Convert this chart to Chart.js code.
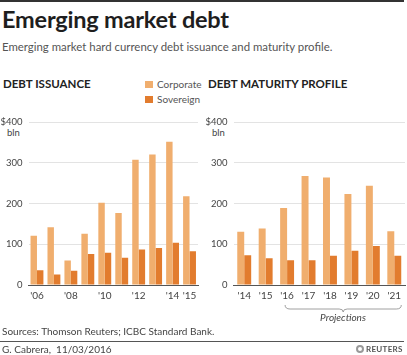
<!DOCTYPE html>
<html>
<head>
<meta charset="utf-8">
<script src="https://cdn.jsdelivr.net/npm/chart.js@4.4.1/dist/chart.umd.min.js"></script>
<style>
  html, body { margin: 0; padding: 0; background: #fff; }
  body { width: 407px; height: 355px; position: relative; overflow: hidden; font-family: Lato, "Noto Sans", sans-serif; color: #222; }
  .abs { position: absolute; white-space: nowrap; }
  #topline { left: 0; top: 0; width: 404px; height: 2px; background: #333; }
  #title { left: 2px; top: 5px; font-size: 23.5px; font-weight: 700; color: #1e1e1e; letter-spacing: -0.2px; }
  #subtitle { left: 2px; top: 40px; font-size: 11.4px; color: #555; }
  .hdr { font-size: 11.5px; font-weight: 700; color: #222; top: 77px; }
  .leg { left: 145px; font-size: 10px; color: #555; }
  .leg span { display: inline-block; width: 8px; height: 7px; margin-right: 4px; vertical-align: 0px; }
  .bln { font-size: 9.5px; color: #444; }
  #wrapL { left: 0; top: 110px; width: 202px; height: 210px; }
  #wrapR { left: 205px; top: 110px; width: 202px; height: 210px; }
  #proj { left: 343px; top: 311px; transform: translateX(-50%); font-size: 10px; font-style: italic; color: #444; }
  #sources { left: 2px; top: 325px; font-size: 10px; color: #444; }
  #sep { left: 0; top: 341px; width: 404px; height: 1px; background: #555; }
  #byline { left: 2px; top: 343px; font-size: 10px; color: #444; }
  #reuters { left: 356px; top: 344px; font-size: 8px; font-weight: 700; color: #555; letter-spacing: 0.3px; }
  #reuters i { display: inline-block; width: 8px; height: 8px; border-radius: 50%; border: 2px solid #999; box-sizing: border-box; vertical-align: -1px; margin-right: 2px; }
  canvas { display: block; }
</style>
</head>
<body>
<div class="abs" id="topline"></div>
<div class="abs" id="title">Emerging market debt</div>
<div class="abs" id="subtitle">Emerging market hard currency debt issuance and maturity profile.</div>
<div class="abs hdr" style="left:3px">DEBT ISSUANCE</div>
<div class="abs hdr" style="left:208px">DEBT MATURITY PROFILE</div>
<div class="abs leg" style="top:78px"><span style="background:#F0AE6E"></span>Corporate</div>
<div class="abs leg" style="top:93px"><span style="background:#E27C2E"></span>Sovereign</div>
<div class="abs bln" style="left:7px;top:127px">bln</div>
<div class="abs bln" style="left:212px;top:127px">bln</div>
<div class="abs" id="wrapL"><canvas id="cL" width="202" height="210"></canvas></div>
<div class="abs" id="wrapR"><canvas id="cR" width="202" height="210"></canvas></div>
<div class="abs" id="proj">Projections</div>
<div class="abs" id="sources">Sources: Thomson Reuters; ICBC Standard Bank.</div>
<div class="abs" id="sep"></div>
<div class="abs" id="byline">G. Cabrera,&nbsp; 11/03/2016</div>
<div class="abs" id="reuters"><i></i>REUTERS</div>
<script>
// ---- Data ----
const issuanceYears = ["'06","'07","'08","'09","'10","'11","'12","'13","'14","'15"];
const issuanceShownLabels = ["'06","'08","'10","'12","'14","'15"];
const issuanceCorporate = [121, 142, 60, 126, 202, 177, 308, 321, 352, 218];
const issuanceSovereign = [36, 26, 35, 76, 79, 67, 87, 91, 104, 83];

const maturityYears = ["'14","'15","'16","'17","'18","'19","'20","'21"];
const maturityCorporate = [131, 139, 189, 268, 264, 224, 244, 132];
const maturitySovereign = [73, 66, 61, 61, 72, 84, 96, 72];
const projectionStart = "'16";
const projectionEnd = "'21";

const yTicks = [0, 100, 200, 300, 400];

const COL_CORP = '#F0AE6E';
const COL_SOV = '#E27C2E';

function makeOptions(showLabels, padRight) {
  return {
    responsive: false,
    animation: false,
    plugins: { legend: { display: false }, tooltip: { enabled: false } },
    layout: { padding: { top: 12.3, right: padRight, left: 0, bottom: 10 } },
    scales: {
      x: {
        grid: { display: false, drawTicks: false },
        border: { display: true, color: '#555', width: 1 },
        ticks: {
          autoSkip: false, maxRotation: 0, padding: 5,
          color: '#444', font: { family: 'Lato', size: 10 },
          callback: function (v) {
            const l = this.getLabelForValue(v);
            return showLabels.includes(l) ? l : '';
          }
        },
        afterFit: s => { s.height = 25; }
      },
      y: {
        min: 0, max: 400,
        afterBuildTicks: s => { s.ticks = yTicks.map(v => ({ value: v })); },
        grid: { color: '#e3e3e3', drawTicks: false, lineWidth: 1 },
        border: { display: false },
        ticks: {
          padding: 6, color: '#444', font: { family: 'Lato', size: 9.5 },
          callback: v => (v === 400 ? '$400' : String(v))
        },
        afterFit: s => { s.width = 28.5; }
      }
    }
  };
}

Chart.defaults.font.family = 'Lato';

new Chart(document.getElementById('cL'), {
  type: 'bar',
  data: {
    labels: issuanceYears,
    datasets: [
      { label: 'Corporate', data: issuanceCorporate, backgroundColor: COL_CORP, barPercentage: 1, categoryPercentage: 0.76 },
      { label: 'Sovereign', data: issuanceSovereign, backgroundColor: COL_SOV, barPercentage: 1, categoryPercentage: 0.76 }
    ]
  },
  options: makeOptions(issuanceShownLabels, 4)
});

const bracketPlugin = {
  id: 'bracket',
  afterDraw(chart) {
    const x = chart.scales.x;
    const ctx = chart.ctx;
    const x1 = x.getPixelForValue(maturityYears.indexOf(projectionStart)) - 2;
    const x2 = x.getPixelForValue(maturityYears.indexOf(projectionEnd)) + 7;
    const mid = (x1 + x2) / 2;
    const yTop = chart.chartArea.bottom + 20;
    const yMid = yTop + 4;
    const yTip = yTop + 7;
    ctx.save();
    ctx.strokeStyle = '#888';
    ctx.lineWidth = 0.8;
    ctx.beginPath();
    ctx.moveTo(x1, yTop);
    ctx.quadraticCurveTo(x1, yMid, x1 + 5, yMid);
    ctx.lineTo(mid - 4, yMid);
    ctx.quadraticCurveTo(mid, yMid, mid, yTip);
    ctx.quadraticCurveTo(mid, yMid, mid + 4, yMid);
    ctx.lineTo(x2 - 5, yMid);
    ctx.quadraticCurveTo(x2, yMid, x2, yTop);
    ctx.stroke();
    ctx.restore();
  }
};

new Chart(document.getElementById('cR'), {
  type: 'bar',
  data: {
    labels: maturityYears,
    datasets: [
      { label: 'Corporate', data: maturityCorporate, backgroundColor: COL_CORP, barPercentage: 1, categoryPercentage: 0.65 },
      { label: 'Sovereign', data: maturitySovereign, backgroundColor: COL_SOV, barPercentage: 1, categoryPercentage: 0.65 }
    ]
  },
  options: makeOptions(maturityYears, 2),
  plugins: [bracketPlugin]
});
</script>
</body>
</html>
